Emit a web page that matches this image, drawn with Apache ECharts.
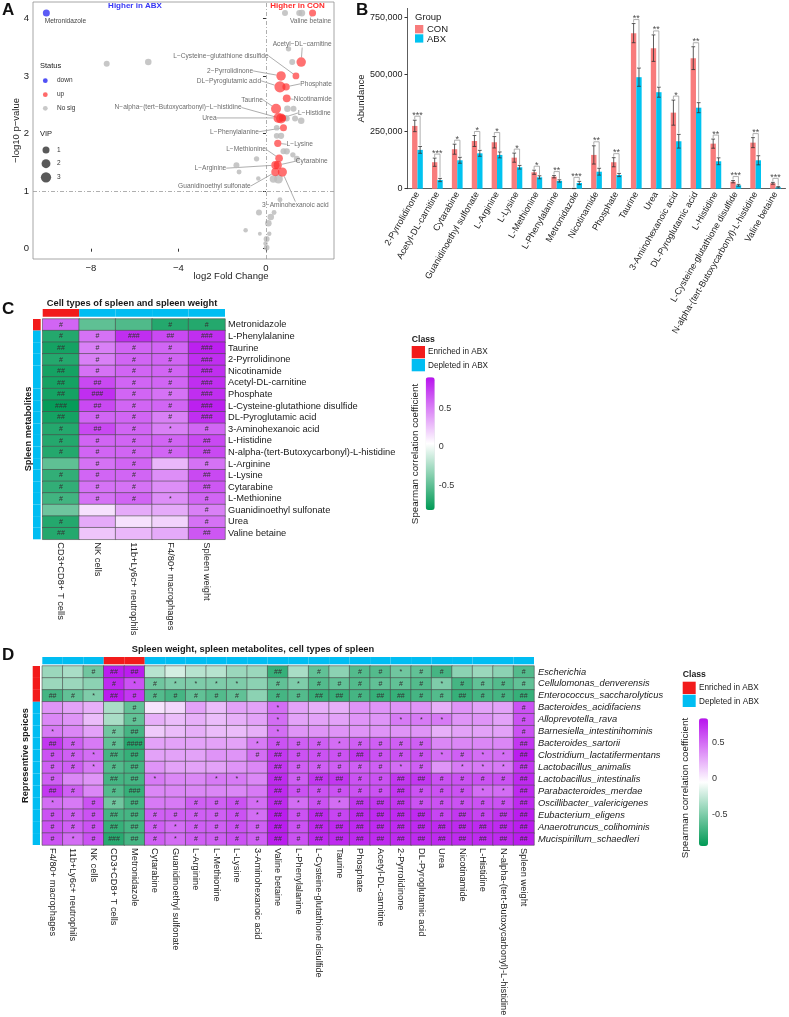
<!DOCTYPE html>
<html>
<head>
<meta charset="utf-8">
<script src="https://cdn.jsdelivr.net/npm/echarts@6.0.0/dist/echarts.min.js"></script>
<style>
html, body { margin: 0; padding: 0; background: #fff; }
#main { width: 789px; height: 1017px; }
</style>
</head>
<body>
<div id="main"></div>
<script>
// ---------- panel A : volcano ----------
var upNames = ['Valine betaine', 'Acetyl\u2212DL\u2212carnitine', 'L\u2212Cysteine\u2212glutathione disulfide', '2\u2212Pyrrolidinone',
    'Phosphate', 'DL\u2212Pyroglutamic acid', 'Nicotinamide', 'Taurine', 'N\u2212alpha\u2212(tert\u2212Butoxycarbonyl)\u2212L\u2212histidine',
    'L\u2212Histidine', 'Urea', 'L\u2212Phenylalanine', 'L\u2212Lysine', 'L\u2212Methionine', 'Cytarabine', 'L\u2212Arginine',
    'Guanidinoethyl sulfonate', '3\u2212Aminohexanoic acid'];
var upFC = [2.13, 1.61, 1.37, 0.69, 0.92, 0.64, 0.95, 0.46, 0.69, 0.75, 0.57, 0.80, 0.54, 0.60, 0.54, 0.43, 0.43, 0.75];
var upP = [4.09, 3.24, 3.00, 3.00, 2.81, 2.81, 2.61, 2.43, 2.26, 2.27, 2.27, 2.10, 1.83, 1.57, 1.45, 1.45, 1.33, 1.33];
var upVIP = [1.0, 2.4, 0.9, 2.4, 1.2, 3.7, 1.4, 2.8, 2.8, 1.0, 2.8, 1.0, 1.1, 1.3, 1.6, 1.6, 1.6, 2.2];
var downNames = ['Metronidazole'];
var downFC = [-10.04];
var downP = [4.09];
var downVIP = [1.0];
var nsFC = [-7.28, -5.38, -1.35, -1.23, -0.43, -0.35, -0.32, -0.93, -0.28, 0.87, 1.52, 1.64, 1.03, 1.20, 0.98, 1.26, 0.95,
    1.33, 1.61, 0.49, 0.49, 0.69, 0.80, 0.95, 1.23, 1.41, 0.34, 0.57, 0.64, 0.37, 0.22, 0.11, 0.15, 0.03, -0.02, 0.03, 0.80, 0.90];
var nsP = [3.21, 3.24, 1.45, 1.33, 1.56, 1.22, 0.63, 0.32, 0.26, 4.09, 4.09, 4.09, 3.47, 3.24, 2.43, 2.43, 2.26,
    2.26, 2.22, 2.10, 1.96, 1.96, 1.69, 1.69, 1.63, 1.56, 1.21, 1.21, 0.85, 0.63, 0.55, 0.44, 0.26, 0.17, 0.09, 0.02, 2.27, 2.27];
var nsVIP = [0.6, 0.8, 0.6, 0.3, 0.4, 0.2, 0.6, 0.2, 0.1, 0.6, 0.6, 0.9, 0.4, 0.6, 0.8, 0.6, 0.6,
    0.6, 0.8, 0.5, 0.5, 0.7, 0.6, 0.7, 0.4, 0.6, 1.2, 2.0, 0.3, 0.3, 0.8, 0.8, 0.2, 0.6, 0.2, 0.5, 0.6, 0.5];
var volcanoXTicks = [-8, -4, 0];
var volcanoYTicks = [0, 1, 2, 3, 4];
// label shift from its point, in px
var upLabelShift = [[-2, 8], [1, -18], [-75, -20], [-51, -5], [30, -3], [-51, -6], [26, 1], [-24, -9], [-103, -11],
    [32, -5], [-69, 0], [-49, 4], [22, 1], [-33, -9], [34, -4], [-65, 3], [-61, 14], [13, 33]];

// ---------- panel B : bars ----------
var barCategories = ['2-Pyrrolidinone', 'Acetyl-DL-carnitine', 'Cytarabine', 'Guanidinoethyl sulfonate', 'L-Arginine', 'L-Lysine',
    'L-Methionine', 'L-Phenylalanine', 'Metronidazole', 'Nicotinamide', 'Phosphate', 'Taurine', 'Urea', '3-Aminohexanoic acid',
    'DL-Pyroglutamic acid', 'L-Histidine', 'L-Cysteine-glutathione disulfide', 'N-alpha-(tert-Butoxycarbonyl)-L-histidine', 'Valine betaine'];
var conMean = [275000, 116000, 173000, 209000, 203500, 136000, 72000, 52500, 1000, 148000, 116000, 681600, 615800, 333300, 572000, 197400, 30700, 201800, 23700];
var conErr = [25000, 18000, 22000, 24000, 25000, 20000, 9000, 5000, 500, 40000, 20000, 42000, 58000, 55000, 50000, 20000, 5000, 22000, 4000];
var abxMean = [170000, 38000, 124500, 155000, 148000, 94000, 50000, 34000, 25000, 74500, 60000, 488600, 422800, 207900, 355000, 120200, 14900, 124500, 6100];
var abxErr = [15000, 7000, 13000, 13000, 13000, 8000, 6500, 5000, 7000, 15000, 7000, 40000, 22000, 30000, 22000, 15000, 4000, 20000, 3000];
var barSig = ['***', '***', '*', '*', '*', '*', '*', '**', '***', '**', '**', '**', '**', '*', '**', '**', '***', '**', '***'];
var barYTicks = [0, 250000, 500000, 750000];

// ---------- panel C : heatmap ----------
var cCols = ['CD3+CD8+ T cells', 'NK cells', '11b+Ly6c+ neutrophils', 'F4/80+ macrophages', 'Spleen weight'];
var cRows = ['Metronidazole', 'L-Phenylalanine', 'Taurine', '2-Pyrrolidinone', 'Nicotinamide', 'Acetyl-DL-carnitine', 'Phosphate',
    'L-Cysteine-glutathione disulfide', 'DL-Pyroglutamic acid', '3-Aminohexanoic acid', 'L-Histidine',
    'N-alpha-(tert-Butoxycarbonyl)-L-histidine', 'L-Arginine', 'L-Lysine', 'Cytarabine', 'L-Methionine',
    'Guanidinoethyl sulfonate', 'Urea', 'Valine betaine'];
var cValues = [
    [0.6, -0.5, -0.55, -0.7, -0.7],
    [-0.7, 0.55, 0.8, 0.7, 0.8],
    [-0.75, 0.5, 0.6, 0.6, 0.85],
    [-0.7, 0.5, 0.6, 0.6, 0.8],
    [-0.75, 0.55, 0.6, 0.6, 0.8],
    [-0.75, 0.7, 0.6, 0.6, 0.8],
    [-0.75, 0.8, 0.6, 0.55, 0.8],
    [-0.8, 0.7, 0.6, 0.6, 0.85],
    [-0.75, 0.6, 0.6, 0.5, 0.8],
    [-0.7, 0.7, 0.6, 0.5, 0.6],
    [-0.7, 0.6, 0.6, 0.6, 0.7],
    [-0.7, 0.6, 0.6, 0.6, 0.7],
    [-0.5, 0.55, 0.6, 0.3, 0.55],
    [-0.65, 0.6, 0.6, 0.45, 0.7],
    [-0.65, 0.55, 0.55, 0.45, 0.65],
    [-0.6, 0.55, 0.6, 0.45, 0.6],
    [-0.45, 0.15, 0.35, 0.35, 0.5],
    [-0.7, 0.35, 0.15, 0.2, 0.55],
    [-0.7, 0.25, 0.3, 0.35, 0.65]
];
var cMarks = [
    ['#', '', '', '#', '#'], ['#', '#', '###', '##', '###'], ['##', '#', '#', '#', '###'], ['#', '#', '#', '#', '###'],
    ['##', '#', '#', '#', '###'], ['##', '##', '#', '#', '###'], ['##', '###', '#', '#', '###'], ['###', '##', '#', '#', '###'],
    ['##', '#', '#', '#', '###'], ['#', '##', '#', '*', '#'], ['#', '#', '#', '#', '##'], ['#', '#', '#', '#', '##'],
    ['', '#', '#', '', '#'], ['#', '#', '#', '', '##'], ['#', '#', '#', '', '##'], ['#', '#', '#', '*', '#'],
    ['', '', '', '', '#'], ['#', '', '', '', '#'], ['##', '', '', '', '##']
];
var cColClass = [0, 1, 1, 1, 1];
var cRowClass = [0, 1, 1, 1, 1, 1, 1, 1, 1, 1, 1, 1, 1, 1, 1, 1, 1, 1, 1];
var cScale = [-0.82, 0.9];

// ---------- panel D : heatmap ----------
var dCols = ['F4/80+ macrophages', '11b+Ly6c+ neutrophils', 'NK cells', 'CD3+CD8+ T cells', 'Metronidazole', 'Cytarabine',
    'Guanidinoethyl sulfonate', 'L-Arginine', 'L-Methionine', 'L-Lysine', '3-Aminohexanoic acid', 'Valine betaine',
    'L-Phenylalanine', 'L-Cysteine-glutathione disulfide', 'Taurine', 'Phosphate', 'Acetyl-DL-carnitine', '2-Pyrrolidinone',
    'DL-Pyroglutamic acid', 'Urea', 'Nicotinamide', 'L-Histidine', 'N-alpha-(tert-Butoxycarbonyl)-L-histidine', 'Spleen weight'];
var dRows = ['Escherichia', 'Cellulomonas_denverensis', 'Enterococcus_saccharolyticus', 'Bacteroides_acidifaciens',
    'Alloprevotella_rava', 'Barnesiella_intestinihominis', 'Bacteroides_sartorii', 'Clostridium_lactatifermentans',
    'Lactobacillus_animalis', 'Lactobacillus_intestinalis', 'Parabacteroides_merdae', 'Oscillibacter_valericigenes',
    'Eubacterium_eligens', 'Anaerotruncus_colihominis', 'Mucispirillum_schaedleri'];
var dValues = [
    [-0.4, -0.35, -0.55, 0.8, 0.8, -0.3, -0.2, -0.3, -0.3, -0.4, -0.4, -0.75, -0.35, -0.6, -0.45, -0.65, -0.65, -0.55, -0.6, -0.7, -0.45, -0.4, -0.45, -0.65],
    [-0.4, -0.4, -0.45, 0.75, 0.6, -0.55, -0.5, -0.5, -0.5, -0.5, -0.45, -0.6, -0.5, -0.65, -0.6, -0.65, -0.6, -0.6, -0.65, -0.5, -0.7, -0.6, -0.65, -0.6],
    [-0.7, -0.6, -0.5, 0.8, 0.7, -0.65, -0.7, -0.6, -0.65, -0.6, -0.45, -0.7, -0.65, -0.75, -0.75, -0.7, -0.75, -0.75, -0.7, -0.65, -0.75, -0.7, -0.7, -0.75],
    [0.35, 0.3, 0.25, -0.35, -0.6, 0.05, 0.1, 0.3, 0.2, 0.3, 0.3, 0.5, 0.3, 0.25, 0.25, 0.35, 0.35, 0.35, 0.35, 0.25, 0.35, 0.3, 0.3, 0.6],
    [0.4, 0.35, 0.2, -0.35, -0.6, 0.25, 0.2, 0.25, 0.2, 0.25, 0.3, 0.5, 0.3, 0.3, 0.3, 0.35, 0.35, 0.45, 0.45, 0.45, 0.35, 0.35, 0.3, 0.6],
    [0.45, 0.4, 0.3, -0.55, -0.7, 0.15, 0.2, 0.25, 0.2, 0.2, 0.25, 0.5, 0.35, 0.35, 0.35, 0.35, 0.35, 0.35, 0.35, 0.25, 0.3, 0.3, 0.3, 0.6],
    [0.7, 0.55, 0.45, -0.6, -0.8, 0.3, 0.3, 0.3, 0.3, 0.3, 0.45, 0.6, 0.55, 0.55, 0.5, 0.55, 0.55, 0.55, 0.55, 0.4, 0.4, 0.4, 0.4, 0.7],
    [0.6, 0.55, 0.5, -0.7, -0.75, 0.3, 0.3, 0.3, 0.35, 0.35, 0.5, 0.7, 0.6, 0.6, 0.6, 0.7, 0.6, 0.6, 0.6, 0.5, 0.55, 0.5, 0.5, 0.8],
    [0.55, 0.55, 0.45, -0.65, -0.7, 0.35, 0.3, 0.3, 0.3, 0.35, 0.4, 0.7, 0.55, 0.55, 0.55, 0.55, 0.55, 0.5, 0.55, 0.35, 0.45, 0.45, 0.45, 0.7],
    [0.55, 0.4, 0.35, -0.7, -0.7, 0.45, 0.4, 0.4, 0.45, 0.45, 0.4, 0.75, 0.55, 0.7, 0.7, 0.6, 0.6, 0.7, 0.7, 0.6, 0.6, 0.6, 0.6, 0.75],
    [0.7, 0.55, 0.4, -0.65, -0.75, 0.4, 0.4, 0.4, 0.4, 0.4, 0.45, 0.75, 0.6, 0.6, 0.6, 0.6, 0.6, 0.7, 0.6, 0.6, 0.6, 0.5, 0.5, 0.75],
    [0.5, 0.45, 0.6, -0.55, -0.7, 0.45, 0.45, 0.55, 0.55, 0.6, 0.5, 0.75, 0.5, 0.6, 0.5, 0.7, 0.7, 0.7, 0.6, 0.6, 0.6, 0.6, 0.6, 0.75],
    [0.6, 0.55, 0.6, -0.7, -0.7, 0.55, 0.55, 0.55, 0.55, 0.6, 0.5, 0.8, 0.6, 0.75, 0.65, 0.75, 0.75, 0.75, 0.75, 0.65, 0.7, 0.65, 0.7, 0.8],
    [0.6, 0.55, 0.6, -0.75, -0.7, 0.55, 0.5, 0.55, 0.55, 0.6, 0.55, 0.8, 0.6, 0.75, 0.75, 0.75, 0.75, 0.75, 0.75, 0.75, 0.75, 0.75, 0.75, 0.8],
    [0.6, 0.5, 0.6, -0.8, -0.7, 0.55, 0.5, 0.55, 0.55, 0.6, 0.55, 0.8, 0.6, 0.75, 0.75, 0.75, 0.75, 0.75, 0.75, 0.75, 0.75, 0.75, 0.75, 0.8]
];
var dMarks = [
    ['', '', '#', '##', '##', '', '', '', '', '', '', '##', '', '#', '', '#', '#', '*', '#', '#', '', '', '', '#'],
    ['', '', '', '#', '*', '#', '*', '*', '*', '*', '', '#', '*', '#', '#', '#', '#', '#', '#', '*', '#', '#', '#', '#'],
    ['##', '#', '*', '##', '#', '#', '#', '#', '#', '#', '', '#', '#', '##', '##', '#', '##', '##', '#', '#', '##', '#', '#', '##'],
    ['', '', '', '', '#', '', '', '', '', '', '', '*', '', '', '', '', '', '', '', '', '', '', '', '#'],
    ['', '', '', '', '#', '', '', '', '', '', '', '*', '', '', '', '', '', '*', '*', '*', '', '', '', '#'],
    ['*', '', '', '#', '##', '', '', '', '', '', '', '*', '', '', '', '', '', '', '', '', '', '', '', '#'],
    ['##', '#', '', '#', '####', '', '', '', '', '', '*', '#', '#', '#', '*', '#', '#', '#', '#', '', '', '', '', '##'],
    ['#', '#', '*', '##', '##', '', '', '', '', '', '#', '##', '#', '#', '#', '##', '#', '#', '#', '*', '#', '*', '*', '##'],
    ['#', '#', '*', '#', '##', '', '', '', '', '', '', '##', '#', '#', '#', '#', '#', '*', '#', '', '*', '*', '*', '##'],
    ['#', '', '', '##', '##', '*', '', '', '*', '*', '', '##', '#', '##', '##', '#', '#', '##', '##', '#', '#', '#', '#', '##'],
    ['##', '#', '', '#', '###', '', '', '', '', '', '', '##', '#', '#', '#', '#', '#', '##', '#', '#', '#', '*', '*', '##'],
    ['*', '', '#', '#', '##', '', '', '#', '#', '#', '*', '##', '*', '#', '*', '##', '##', '##', '#', '#', '#', '#', '#', '##'],
    ['#', '#', '#', '##', '##', '#', '#', '#', '#', '#', '*', '##', '#', '##', '#', '##', '##', '##', '##', '#', '##', '#', '##', '##'],
    ['#', '#', '#', '##', '##', '#', '*', '#', '#', '#', '#', '##', '#', '##', '##', '##', '##', '##', '##', '##', '##', '##', '##', '##'],
    ['#', '*', '#', '###', '##', '#', '*', '#', '#', '#', '#', '##', '#', '##', '##', '##', '##', '##', '##', '##', '##', '##', '##', '##']
];
var dColClass = [1, 1, 1, 0, 0, 1, 1, 1, 1, 1, 1, 1, 1, 1, 1, 1, 1, 1, 1, 1, 1, 1, 1, 1];
var dRowClass = [0, 0, 0, 1, 1, 1, 1, 1, 1, 1, 1, 1, 1, 1, 1];
var dScale = [-0.94, 0.84];
var scaleTicks = [-0.5, 0, 0.5];

var FONT = '"Liberation Sans", Arial, sans-serif';
var CON_COLOR = '#F87C7C';
var ABX_COLOR = '#00C3F0';
var classColors = ['#F21B1B', '#00BDF2'];
var heatColors = ['#009A55', '#FFFFFF', '#B812EE'];

var myChart = echarts.init(document.getElementById('main'));

function vipSize(v) {
    return 2.5 + 4.5 * Math.sqrt(v);
}

function zip3(a, b, c) {
    return a.map(function (x, i) { return [x, b[i], c[i]]; });
}

function heatData(matrix) {
    var out = [];
    matrix.forEach(function (row, r) {
        row.forEach(function (v, c) { out.push([c, r, v]); });
    });
    return out;
}

function annotRender(params, api) {
    var p = api.coord([api.value(0), api.value(1)]);
    var s = api.size([1, 1]);
    return {
        type: 'rect',
        shape: {x: p[0] - s[0] / 2, y: p[1] - s[1] / 2, width: s[0], height: s[1]},
        style: {fill: classColors[api.value(2)]}
    };
}

function errRender(params, api) {
    var i = api.value(0), m = api.value(1), e = api.value(2), side = api.value(3);
    var bw = api.size([1, 0])[0] * 0.54 / 2;
    var x = api.coord([i, 0])[0] + side * bw / 2;
    var yt = api.coord([i, m + e])[1];
    var yb = api.coord([i, Math.max(m - e, 0)])[1];
    var cw = bw * 0.35;
    var st = {stroke: '#333', lineWidth: 0.8};
    return {
        type: 'group', children: [
            {type: 'line', shape: {x1: x, y1: yt, x2: x, y2: yb}, style: st},
            {type: 'line', shape: {x1: x - cw, y1: yt, x2: x + cw, y2: yt}, style: st},
            {type: 'line', shape: {x1: x - cw, y1: yb, x2: x + cw, y2: yb}, style: st}
        ]
    };
}

function bracketRender(params, api) {
    var i = api.value(0);
    var half = api.size([1, 0])[0] * 0.54 / 4;
    var xc = api.coord([i, 0])[0];
    var yl = api.coord([i, api.value(1)])[1];
    var yr = api.coord([i, api.value(2)])[1];
    var top = Math.min(yl, yr) - 4;
    return {
        type: 'group', children: [
            {type: 'polyline', shape: {points: [[xc - half, yl - 1], [xc - half, top], [xc + half, top], [xc + half, yr - 1]]},
                style: {stroke: '#9c9c9c', lineWidth: 0.8, fill: null}},
            {type: 'text', style: {text: barSig[i], x: xc, y: top - 1, align: 'center', verticalAlign: 'middle',
                fontSize: 9, fontFamily: FONT, fill: '#4d4d4d'}}
        ]
    };
}

function txt(x, y, s, size, opt) {
    opt = opt || {};
    return {
        type: 'text', x: x, y: y, rotation: opt.rot || 0, silent: true,
        style: {
            text: s, fontSize: size, fontWeight: opt.bold ? 'bold' : 'normal', fontFamily: FONT,
            fill: opt.color || '#1a1a1a', align: opt.align || 'left', verticalAlign: 'middle'
        }
    };
}

function rect(x, y, w, h, color) {
    return {type: 'rect', silent: true, shape: {x: x, y: y, width: w, height: h}, style: {fill: color}};
}

function dot(x, y, r, color) {
    return {type: 'circle', silent: true, shape: {cx: x, cy: y, r: r}, style: {fill: color}};
}

function minusFmt(v) {
    return String(v).replace('-', '\u2212');
}

var hidden = {show: false};
function catAxis(grid, data, extra) {
    return Object.assign({type: 'category', gridIndex: grid, data: data, axisLine: hidden, axisTick: hidden,
        axisLabel: {show: false}, splitLine: hidden}, extra || {});
}

var grids = [
    {left: 33, top: 2, width: 301, height: 257, show: true, borderColor: '#8f8f8f', borderWidth: 0.8},   // A
    {left: 407.5, top: 8.4, width: 378, height: 180.3},                                                   // B
    {left: 42.7, top: 319, width: 182.3, height: 220.3},                                                  // C heat
    {left: 42.7, top: 309, width: 182.3, height: 7.7},                                                    // C top bar
    {left: 33, top: 319, width: 7.7, height: 220.3},                                                      // C side bar
    {left: 42.3, top: 666, width: 491.7, height: 179},                                                    // D heat
    {left: 42.3, top: 657, width: 491.7, height: 7.3},                                                    // D top bar
    {left: 32.7, top: 666, width: 7.3, height: 179},                                                      // D side bar
    {left: 425.7, top: 377.3, width: 9, height: 132.7},                                                   // C colour scale
    {left: 699, top: 718.3, width: 9, height: 127.7}                                                      // D colour scale
];
grids.forEach(function (g) { g.outerBoundsMode = 'none'; g.containLabel = false; });

var axisText = {fontFamily: FONT, color: '#1a1a1a'};

var xAxes = [
    {type: 'value', gridIndex: 0, min: -10.65, max: 3.11, axisLine: hidden, splitLine: hidden,
        axisTick: {show: true, length: 3, customValues: volcanoXTicks, lineStyle: {color: '#333'}},
        axisLabel: Object.assign({customValues: volcanoXTicks, fontSize: 9.5, margin: 4, formatter: minusFmt}, axisText)},
    {type: 'category', gridIndex: 1, data: barCategories, axisLine: {lineStyle: {color: '#333', width: 0.8}},
        axisTick: {alignWithLabel: true, length: 3, lineStyle: {color: '#333'}},
        axisLabel: Object.assign({rotate: 60, interval: 0, fontSize: 9, margin: 4}, axisText)},
    catAxis(2, cCols, {position: 'bottom', axisLabel: Object.assign({show: true, rotate: -90, interval: 0, fontSize: 9.3, margin: 3}, axisText)}),
    catAxis(3, cCols),
    catAxis(4, ['a']),
    catAxis(5, dCols, {position: 'bottom', axisLabel: Object.assign({show: true, rotate: -90, interval: 0, fontSize: 9.3, margin: 3}, axisText)}),
    catAxis(6, dCols),
    catAxis(7, ['a']),
    {type: 'value', gridIndex: 8, show: false},
    {type: 'value', gridIndex: 9, show: false}
];

var yAxes = [
    {type: 'value', gridIndex: 0, min: -0.179, max: 4.283, axisLine: hidden, splitLine: hidden,
        axisTick: {show: true, length: 3, customValues: volcanoYTicks, lineStyle: {color: '#333'}},
        axisLabel: Object.assign({customValues: volcanoYTicks, fontSize: 9.5, margin: 4}, axisText)},
    {type: 'value', gridIndex: 1, min: 0, max: 790000, splitLine: hidden,
        name: 'Abundance', nameLocation: 'middle', nameGap: 41, nameTextStyle: {fontSize: 9.5, fontFamily: FONT, color: '#1a1a1a'},
        axisLine: {show: true, lineStyle: {color: '#333', width: 0.8}},
        axisTick: {show: true, length: 3, customValues: barYTicks, lineStyle: {color: '#333'}},
        axisLabel: Object.assign({customValues: barYTicks, fontSize: 9, margin: 5}, axisText)},
    catAxis(2, cRows, {inverse: true, position: 'right', axisLabel: Object.assign({show: true, interval: 0, fontSize: 9.3, margin: 3}, axisText)}),
    catAxis(3, ['a']),
    catAxis(4, cRows, {inverse: true}),
    catAxis(5, dRows, {inverse: true, position: 'right',
        axisLabel: Object.assign({show: true, interval: 0, fontSize: 9.3, margin: 4, fontStyle: 'italic'}, axisText)}),
    catAxis(6, ['a']),
    catAxis(7, dRows, {inverse: true}),
    {type: 'value', gridIndex: 8, min: cScale[0], max: cScale[1], position: 'right', axisLine: hidden, axisTick: hidden, splitLine: hidden,
        axisLabel: Object.assign({customValues: scaleTicks, fontSize: 9, margin: 4, color: '#333'}, {fontFamily: FONT})},
    {type: 'value', gridIndex: 9, min: dScale[0], max: dScale[1], position: 'right', axisLine: hidden, axisTick: hidden, splitLine: hidden,
        axisLabel: Object.assign({customValues: scaleTicks, fontSize: 9, margin: 4, color: '#333'}, {fontFamily: FONT})}
];

var heatLabel = function (marks) {
    return {
        show: true, fontSize: 7, color: '#333', fontFamily: FONT,
        formatter: function (p) { return marks[p.value[1]][p.value[0]]; }
    };
};

var series = [
    {
        name: 'No sig', type: 'scatter', xAxisIndex: 0, yAxisIndex: 0,
        data: zip3(nsFC, nsP, nsVIP), symbolSize: function (v) { return vipSize(v[2]); },
        itemStyle: {color: '#BDBDBD', opacity: 0.85},
        markLine: {
            silent: true, symbol: 'none', label: {show: false},
            lineStyle: {color: '#9a9a9a', width: 0.8, type: [4, 2, 1, 2]},
            data: [{yAxis: 1}, {xAxis: 0}]
        }
    },
    {
        name: 'up', type: 'scatter', xAxisIndex: 0, yAxisIndex: 0,
        data: upNames.map(function (n, i) { return {name: n, value: [upFC[i], upP[i], upVIP[i]]}; }),
        symbolSize: function (v) { return vipSize(v[2]); },
        itemStyle: {color: '#FF2E2E', opacity: 0.68},
        label: {show: true, position: 'inside', formatter: '{b}', fontSize: 6.6, color: '#222', fontFamily: FONT},
        labelLine: {show: true, lineStyle: {color: '#777', width: 0.6}},
        labelLayout: function (p) {
            var s = upLabelShift[p.dataIndex];
            return {dx: s[0], dy: s[1]};
        }
    },
    {
        name: 'down', type: 'scatter', xAxisIndex: 0, yAxisIndex: 0,
        data: downNames.map(function (n, i) { return {name: n, value: [downFC[i], downP[i], downVIP[i]]}; }),
        symbolSize: function (v) { return vipSize(v[2]); },
        itemStyle: {color: '#3F3FF5', opacity: 0.85},
        label: {show: true, position: 'inside', formatter: '{b}', fontSize: 6.6, color: '#222', fontFamily: FONT},
        labelLayout: function () { return {dx: 19, dy: 8}; }
    },
    {
        name: 'CON', type: 'bar', xAxisIndex: 1, yAxisIndex: 1, data: conMean,
        barGap: '0%', barCategoryGap: '46%', itemStyle: {color: CON_COLOR}
    },
    {
        name: 'ABX', type: 'bar', xAxisIndex: 1, yAxisIndex: 1, data: abxMean,
        barGap: '0%', barCategoryGap: '46%', itemStyle: {color: ABX_COLOR}
    },
    {
        type: 'custom', xAxisIndex: 1, yAxisIndex: 1, renderItem: errRender, z: 5,
        data: conMean.map(function (m, i) { return [i, m, conErr[i], -1]; })
            .concat(abxMean.map(function (m, i) { return [i, m, abxErr[i], 1]; }))
    },
    {
        type: 'custom', xAxisIndex: 1, yAxisIndex: 1, renderItem: bracketRender, z: 4,
        data: conMean.map(function (m, i) { return [i, m + conErr[i], abxMean[i] + abxErr[i]]; })
    },
    {
        type: 'heatmap', xAxisIndex: 2, yAxisIndex: 2, data: heatData(cValues),
        itemStyle: {borderColor: '#4a4a4a', borderWidth: 0.6},
        label: heatLabel(cMarks)
    },
    {type: 'custom', xAxisIndex: 3, yAxisIndex: 3, renderItem: annotRender,
        data: cColClass.map(function (k, i) { return [i, 0, k]; })},
    {type: 'custom', xAxisIndex: 4, yAxisIndex: 4, renderItem: annotRender,
        data: cRowClass.map(function (k, i) { return [0, i, k]; })},
    {
        type: 'heatmap', xAxisIndex: 5, yAxisIndex: 5, data: heatData(dValues),
        itemStyle: {borderColor: '#4a4a4a', borderWidth: 0.6},
        label: heatLabel(dMarks)
    },
    {type: 'custom', xAxisIndex: 6, yAxisIndex: 6, renderItem: annotRender,
        data: dColClass.map(function (k, i) { return [i, 0, k]; })},
    {type: 'custom', xAxisIndex: 7, yAxisIndex: 7, renderItem: annotRender,
        data: dRowClass.map(function (k, i) { return [0, i, k]; })}
];

var visualMaps = [
    {type: 'continuous', seriesIndex: 7, min: cScale[0], max: cScale[1], calculable: false, orient: 'vertical',
        left: 425.7, top: 377.3, itemWidth: 9, itemHeight: 132.7, padding: 0, inRange: {color: heatColors}},
    {type: 'continuous', seriesIndex: 10, min: dScale[0], max: dScale[1], calculable: false, orient: 'vertical',
        left: 699, top: 718.3, itemWidth: 9, itemHeight: 127.7, padding: 0, inRange: {color: heatColors}}
];

var graphics = [
    txt(2, 10, 'A', 17, {bold: true, color: '#111'}),
    txt(356, 10, 'B', 17, {bold: true, color: '#111'}),
    txt(2, 309, 'C', 17, {bold: true, color: '#111'}),
    txt(2, 655, 'D', 17, {bold: true, color: '#111'}),
    // panel A
    txt(135, 6, 'Higher in ABX', 8, {bold: true, color: '#3535F5', align: 'center'}),
    txt(297.5, 6, 'Higher in CON', 8, {bold: true, color: '#FF2A2A', align: 'center'}),
    txt(16, 130.5, '\u2212log10 p\u2212value', 9.5, {rot: Math.PI / 2, align: 'center'}),
    txt(231, 276, 'log2 Fold Change', 9.5, {align: 'center'}),
    txt(40, 66, 'Status', 7.5),
    dot(45.3, 80.7, 2.4, '#5050F5'), txt(57, 80.7, 'down', 6.5, {color: '#333'}),
    dot(45.3, 94.7, 2.4, '#FF6A6A'), txt(57, 94.7, 'up', 6.5, {color: '#333'}),
    dot(45.3, 108.3, 2.4, '#C8C8C8'), txt(57, 108.3, 'No sig', 6.5, {color: '#333'}),
    txt(40, 134.3, 'VIP', 7.5),
    dot(46, 150, vipSize(1) / 2, '#595959'), txt(57, 150, '1', 6.5, {color: '#333'}),
    dot(46, 163.7, vipSize(2) / 2, '#595959'), txt(57, 163.7, '2', 6.5, {color: '#333'}),
    dot(46, 177.3, vipSize(3) / 2, '#595959'), txt(57, 177.3, '3', 6.5, {color: '#333'}),
    // panel B legend
    txt(415, 17, 'Group', 9.5),
    rect(415, 25, 8.3, 8.3, CON_COLOR), txt(427, 29.8, 'CON', 9.5),
    rect(415, 34.3, 8.3, 8.3, ABX_COLOR), txt(427, 39, 'ABX', 9.5),
    // panel C
    txt(132, 303, 'Cell types of spleen and spleen weight', 9.3, {bold: true, align: 'center'}),
    txt(28, 429, 'Spleen metabolites', 9.3, {bold: true, rot: Math.PI / 2, align: 'center'}),
    txt(411.7, 339.3, 'Class', 8.7, {bold: true}),
    rect(411.7, 346, 13.3, 12.3, classColors[0]), txt(428, 352, 'Enriched in ABX', 8.2),
    rect(411.7, 359, 13.3, 12.3, classColors[1]), txt(428, 366, 'Depleted in ABX', 8.2),
    txt(415.5, 454, 'Spearman correlation coefficient', 9.8, {rot: Math.PI / 2, align: 'center'}),
    // panel D
    txt(253, 649.3, 'Spleen weight, spleen metabolites, cell types of spleen', 9.3, {bold: true, align: 'center'}),
    txt(25, 755.5, 'Representive speices', 9.3, {bold: true, rot: Math.PI / 2, align: 'center'}),
    txt(682.7, 675, 'Class', 8.7, {bold: true}),
    rect(682.7, 681.7, 13, 12.3, classColors[0]), txt(699, 687.5, 'Enriched in ABX', 8.2),
    rect(682.7, 694.7, 13, 12.3, classColors[1]), txt(699, 701.5, 'Depleted in ABX', 8.2),
    txt(685, 788, 'Spearman correlation coefficient', 9.8, {rot: Math.PI / 2, align: 'center'})
];

myChart.setOption({
    animation: false,
    textStyle: {fontFamily: FONT},
    grid: grids,
    xAxis: xAxes,
    yAxis: yAxes,
    visualMap: visualMaps,
    series: series,
    graphic: graphics
});
</script>
</body>
</html>
